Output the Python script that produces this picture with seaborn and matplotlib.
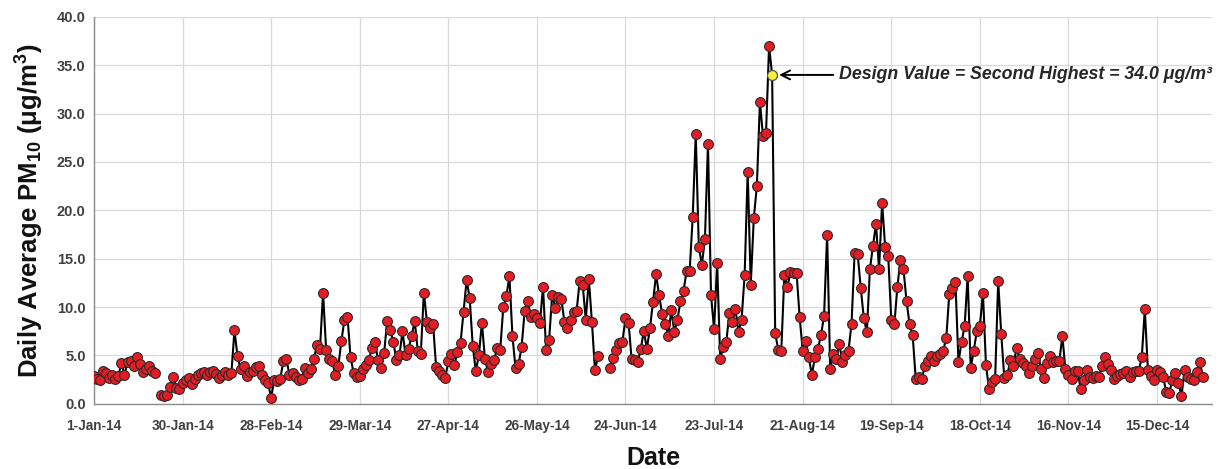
import numpy as np
import pandas as pd
import matplotlib
matplotlib.use("Agg")
import matplotlib.pyplot as plt
import seaborn as sns

nan = np.nan

# daily average PM10 (ug/m3), one list per month, nan = no sample
jan = [2.9, 2.6, 2.5, 3.4, 3.2, 2.7, 3.0, 2.6, 2.9, 4.2, 3.0, 4.3, 4.4, 3.9, 4.8, 4.1,
       3.3, 3.6, 3.9, 3.4, 3.2, nan, 0.9, 0.8, 0.9, 1.7, 2.8, 1.6, 1.5, 2.2, 2.5]
feb = [2.7, 2.0, 2.6, 3.0, 3.2, 3.3, 3.0, 3.3, 3.4, 3.1, 2.7, 3.0, 3.3, 3.0, 3.2, 7.6,
       4.9, 3.6, 3.9, 2.9, 3.3, 3.4, 3.8, 3.9, 3.0, 2.5, 2.2, 0.6]
mar = [2.5, 2.4, 2.6, 4.4, 4.6, 3.0, 3.2, 2.8, 2.5, 2.6, 3.7, 3.2, 3.6, 4.6, 6.1, 5.7,
       11.5, 5.6, 4.6, 4.4, 3.0, 3.9, 6.5, 8.7, 9.0, 4.8, 3.2, 2.8, 2.9, 3.6, 4.0]
apr = [4.5, 5.8, 6.4, 4.5, 3.7, 5.3, 8.6, 7.6, 6.4, 4.5, 5.0, 7.5, 5.0, 5.7, 7.0, 8.6,
       5.5, 5.2, 11.5, 8.5, 7.8, 8.3, 3.8, 3.4, 3.0, 2.7, 4.4, 5.2, 4.0, 5.4]
may = [6.3, 9.5, 12.8, 10.9, 6.0, 3.4, 5.0, 8.4, 4.6, 3.3, 4.1, 4.5, 5.8, 5.6, 10.0, 11.1,
       13.2, 7.0, 3.7, 4.1, 5.9, 9.6, 10.6, 9.0, 9.3, 8.9, 8.4, 12.1, 5.6, 6.6, 11.3]
jun = [9.9, 11.0, 10.8, 8.5, 7.8, 8.7, 9.5, 9.6, 12.7, 12.3, 8.7, 12.9, 8.5, 3.5, 4.9, nan,
       nan, nan, 3.7, 4.7, 5.6, 6.3, 6.4, 8.9, 8.4, 4.6, 4.5, 4.3, 5.7, 7.5]
jul = [5.7, 7.8, 10.5, 13.4, 11.2, 9.3, 8.3, 7.0, 9.7, 7.4, 8.7, 10.6, 11.7, 13.7, 13.7, 19.3,
       27.9, 16.2, 14.4, 17.0, 26.9, 11.2, 7.7, 14.6, 4.6, 5.9, 6.4, 9.4, 8.5, 9.8, 7.4]
aug = [8.7, 13.3, 24.0, 12.3, 19.2, 22.5, 31.2, 27.7, 28.0, 37.0, 34.0, 7.3, 5.6, 5.5, 13.3, 12.1,
       13.6, 13.5, 13.5, 9.0, 5.5, 6.5, 4.8, 3.0, 4.8, 5.7, 7.1, 9.1, 17.5, 3.6, 5.1]
sep = [4.6, 6.2, 4.3, 5.0, 5.5, 8.3, 15.6, 15.5, 12.0, 8.9, 7.4, 13.9, 16.3, 18.6, 13.9, 20.8,
       16.2, 15.3, 8.7, 8.2, 12.1, 14.9, 13.9, 10.6, 8.2, 7.1, 2.6, 2.8, 2.6, 3.9]
oct_ = [4.4, 4.9, 4.4, 4.9, 5.1, 5.5, 6.8, 11.4, 12.0, 12.6, 4.3, 6.4, 8.0, 13.2, 3.7, 5.5,
        7.5, 8.0, 11.5, 4.0, 1.5, 2.3, 2.6, 12.7, 7.2, 2.7, 3.0, 4.5, 3.9, 5.8, 4.6]
nov = [4.2, 3.9, 3.2, 3.9, 4.6, 5.3, 3.6, 2.7, 4.2, 4.9, 4.3, 4.4, 4.4, 7.0, 3.6, 3.0,
       2.6, 3.4, 3.4, 1.5, 2.5, 3.5, 2.8, 2.7, 2.9, 2.8, 3.9, 4.8, 4.1, 3.5]
dec = [2.6, 2.9, 3.1, 3.2, 3.4, 2.8, 3.3, 3.4, 3.4, 4.8, 9.8, 3.5, 2.9, 2.5, 3.5, 3.3,
       2.8, 1.2, 1.1, 2.5, 3.2, 2.2, 0.8, 3.5, 2.8, 2.6, 2.5, 3.3, 4.3, 2.8, nan]

y_ticks = [0, 5, 10, 15, 20, 25, 30, 35, 40]
tick_step = 29  # days between x tick labels

dates = pd.date_range("2014-01-01", "2014-12-31", freq="D")
pm10 = np.concatenate([jan, feb, mar, apr, may, jun, jul, aug, sep, oct_, nov, dec])

df = pd.DataFrame({"day": np.arange(len(dates)), "pm10": pm10})
# break the line where a day is missing
df["seg"] = df["pm10"].isna().cumsum()
df = df.dropna()

# design value = second highest day
second = np.sort(df["pm10"].values)[-2]
dv = df[df["pm10"] == second]

sns.set_theme(style="whitegrid")
plt.rcParams["font.family"] = ["Liberation Sans", "DejaVu Sans"]
plt.rcParams["mathtext.fontset"] = "custom"
plt.rcParams["mathtext.rm"] = "Liberation Sans:bold"
plt.rcParams["mathtext.bf"] = "Liberation Sans:bold"
plt.rcParams["mathtext.default"] = "bf"

fig, ax = plt.subplots(figsize=(12.28, 4.69), dpi=100)
fig.subplots_adjust(left=0.0765, right=0.987, top=0.964, bottom=0.139)

sns.lineplot(data=df, x="day", y="pm10", units="seg", estimator=None,
             color="black", lw=1.5, ax=ax, legend=False)
sns.scatterplot(data=df, x="day", y="pm10", color="#e41c23", edgecolor="#2a2a2a",
                linewidth=0.8, s=50, ax=ax, zorder=3)
sns.scatterplot(data=dv, x="day", y="pm10", color="#f4f232", edgecolor="#555555",
                linewidth=0.8, s=50, ax=ax, zorder=4)

ax.annotate("Design Value = Second Highest = %.1f \u03bcg/m\u00b3" % second,
            xy=(dv["day"].iloc[0], second), xytext=(dv["day"].iloc[0] + 22, second),
            ha="left", va="center", fontsize=12.8, fontweight="bold", fontstyle="italic",
            annotation_clip=False,
            arrowprops=dict(arrowstyle="->", color="black", lw=1.4, shrinkA=2, shrinkB=5,
                            mutation_scale=16))

ax.set_xlim(0, 366)
ax.set_ylim(0, 40)
xt = np.arange(0, 365, tick_step)
ax.set_xticks(xt)
ax.set_xticklabels([d.strftime("%-d-%b-%y") for d in dates[xt]])
ax.set_yticks(y_ticks)
ax.set_yticklabels(["%.1f" % v for v in y_ticks])
ax.tick_params(axis="x", length=0, pad=11, colors="#404040")
ax.tick_params(axis="y", length=0, pad=6, colors="#404040")
for lab in ax.get_xticklabels():
    lab.set_fontsize(9.8)
    lab.set_fontweight("bold")
for lab in ax.get_yticklabels():
    lab.set_fontsize(10.5)
    lab.set_fontweight("bold")

ax.grid(True, color="#d9d9d9", lw=0.9)
for side in ["top", "right"]:
    ax.spines[side].set_visible(False)
for side in ["left", "bottom"]:
    ax.spines[side].set_color("#8c8c8c")
    ax.spines[side].set_linewidth(1.0)

ax.set_xlabel("Date", fontsize=18, fontweight="bold", labelpad=9, color="#111111")
ax.set_ylabel("Daily Average PM$_{10}$ (\u03bcg/m$^{3}$)",
              fontsize=18.5, fontweight="bold", labelpad=8, color="#111111")

fig.savefig("out.png", dpi=100)
